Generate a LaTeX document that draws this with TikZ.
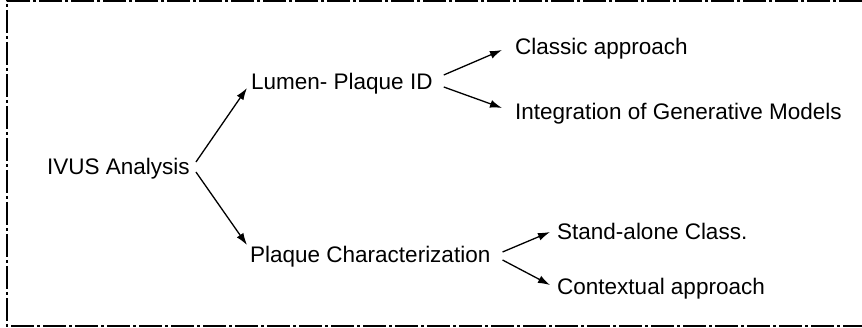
\documentclass[tikz,border=0pt]{standalone}
\usepackage{fontspec}
\setmainfont{Liberation Sans}
\usetikzlibrary{arrows.meta}

\begin{document}
\begin{tikzpicture}[
    x=1pt, y=1pt,
    item/.style={anchor=west, inner sep=0pt, text height=16pt, text depth=5pt, font=\fontsize{22.5}{27}\selectfont},
    arrow/.style={line width=1.3pt, -{Latex[length=12pt,width=8pt]}},
    frame/.style={line width=2pt, dash pattern=on 23pt off 3pt on 3pt off 3pt}
]
\useasboundingbox (0,0) rectangle (862,328);

% Frame
\draw[frame] (862,327) -- (7,327) -- (7,2) -- (862,2);

% Root
\node[item] (ivus) at (47,159) {IVUS Analysis};

% First level
\node[item] (lumen) at (251,244) {Lumen- Plaque ID};
\node[item] (plaque) at (250,71) {Plaque Characterization};

% Second level
\node[item] (classic) at (515,279) {Classic approach};
\node[item] (integ) at (515,214) {Integration of Generative Models};
\node[item] (stand) at (557,94) {Stand-alone Class.};
\node[item] (context) at (557,39) {Contextual approach};

% Connections
\draw[arrow] ([shift={(6pt,7pt)}]ivus.east) -- ([shift={(-4pt,-4pt)}]lumen.west);
\draw[arrow] ([shift={(6pt,-3pt)}]ivus.east) -- ([shift={(-3pt,12pt)}]plaque.west);
\draw[arrow] ([shift={(11pt,9pt)}]lumen.east) -- ([shift={(-13pt,-1pt)}]classic.west);
\draw[arrow] ([shift={(11pt,-3pt)}]lumen.east) -- ([shift={(-13pt,6pt)}]integ.west);
\draw[arrow] ([shift={(12pt,5pt)}]plaque.east) -- ([shift={(-7pt,2pt)}]stand.west);
\draw[arrow] ([shift={(12pt,-3pt)}]plaque.east) -- ([shift={(-7pt,4pt)}]context.west);

\end{tikzpicture}
\end{document}
